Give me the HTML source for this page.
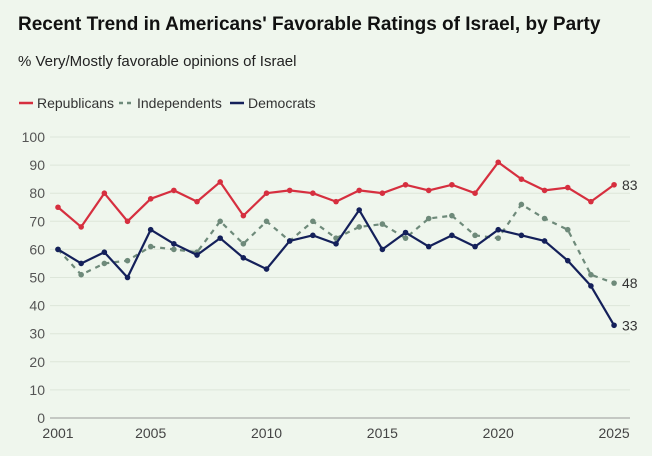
<!DOCTYPE html>
<html><head><meta charset="utf-8"><style>
body{margin:0;width:652px;height:456px;background:#eff6ed;font-family:"Liberation Sans",sans-serif;overflow:hidden}
svg{position:absolute;left:0;top:0}
</style></head><body>
<svg id="s" width="652" height="456" xmlns="http://www.w3.org/2000/svg">
<text x="18" y="30" font-size="19" font-weight="bold" fill="#111">Recent Trend in Americans' Favorable Ratings of Israel, by Party</text>
<text x="18" y="66" font-size="15" fill="#222">% Very/Mostly favorable opinions of Israel</text>
<line x1="19" y1="103" x2="33" y2="103" stroke="#d62f3f" stroke-width="2.5"/>
<text x="37" y="108" font-size="14" fill="#333">Republicans</text>
<line x1="119" y1="103" x2="133" y2="103" stroke="#6e8a7a" stroke-width="2.5" stroke-dasharray="4,4"/>
<text x="137" y="108" font-size="14" fill="#333">Independents</text>
<line x1="230" y1="103" x2="244" y2="103" stroke="#14205a" stroke-width="2.5"/>
<text x="248" y="108" font-size="14" fill="#333">Democrats</text>
</svg>
<script>
var s=document.getElementById('s'),ns='http://www.w3.org/2000/svg';
function el(t,a,txt){var e=document.createElementNS(ns,t);for(var k in a)e.setAttribute(k,a[k]);if(txt!=null)e.textContent=txt;s.appendChild(e);return e;}
function X(y){return 58+(y-2001)*23.17}function Y(v){return 418-v*2.81}
for(var v=0;v<=100;v+=10){el('line',{x1:50,x2:630,y1:Y(v),y2:Y(v),stroke:v==0?'#999':'#dde6da','stroke-width':1});
el('text',{x:45,y:Y(v)+5,'font-size':14,fill:'#555','text-anchor':'end'},v);}
[2001,2005,2010,2015,2020,2025].forEach(function(y){el('text',{x:X(y),y:438,'font-size':14,fill:'#444','text-anchor':'middle'},y);});
var R=[75,68,80,70,78,81,77,84,72,80,81,80,77,81,80,83,81,83,80,91,85,81,82,77,83];
var I=[60,51,55,56,61,60,59,70,62,70,63,70,64,68,69,64,71,72,65,64,76,71,67,51,48];
var D=[60,55,59,50,67,62,58,64,57,53,63,65,62,74,60,66,61,65,61,67,65,63,56,47,33];
function ser(d,c,dash){var p=d.map(function(v,i){return X(2001+i)+','+Y(v)}).join(' ');
var a={points:p,fill:'none',stroke:c,'stroke-width':2.2,'stroke-linejoin':'round'};if(dash)a['stroke-dasharray']='5,5';el('polyline',a);
d.forEach(function(v,i){el('circle',{cx:X(2001+i),cy:Y(v),r:2.8,fill:c});});
el('text',{x:622,y:Y(d[24])+5,'font-size':14,fill:'#333'},d[24]);}
ser(I,'#6e8a7a',1);ser(R,'#d62f3f');ser(D,'#14205a');
</script>
</body></html>
